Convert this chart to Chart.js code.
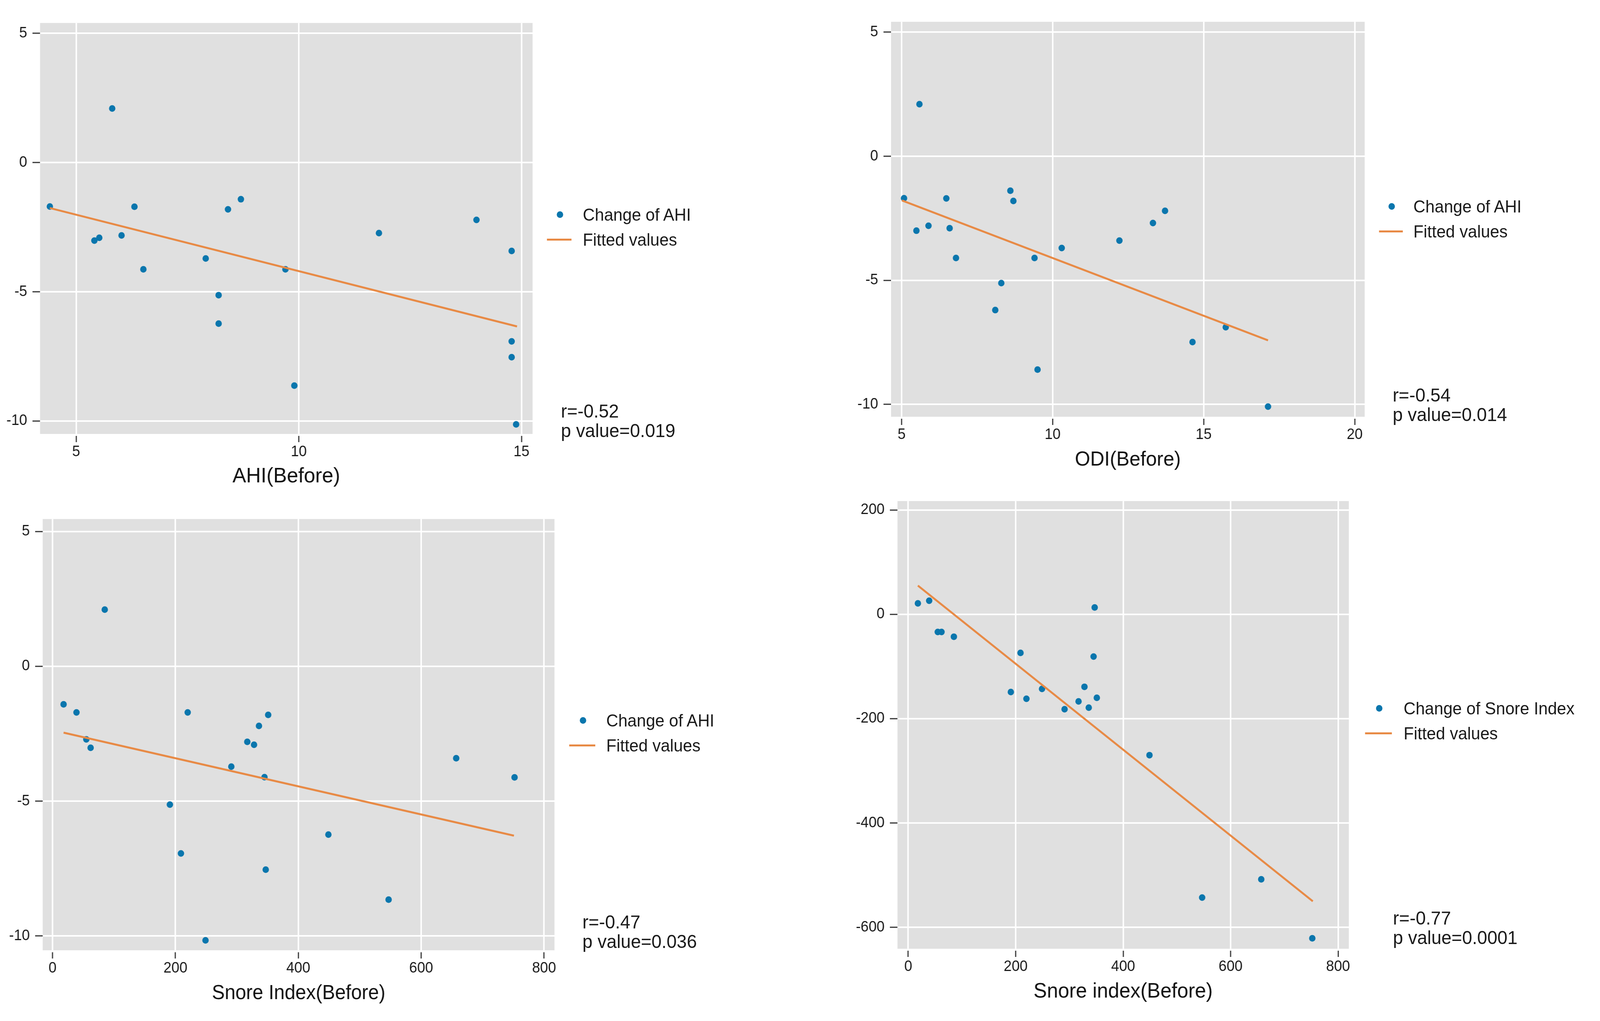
<!DOCTYPE html>
<html>
<head>
<meta charset="utf-8">
<script src="https://cdn.jsdelivr.net/npm/chart.js@4.4.1/dist/chart.umd.min.js"></script>
<style>
  html, body { margin: 0; padding: 0; background: #fff; overflow: hidden; }
  #page { position: relative; width: 4236px; height: 2614px; overflow: hidden; transform-origin: 0 0;
          font-family: "Liberation Sans", Arial, sans-serif; color: #1a1a1a; }
  canvas { position: absolute; }
  .legend { position: absolute; font-size: 44px; line-height: 64px; white-space: nowrap; }
  .legend .dot { position: absolute; width: 17px; height: 17px; border-radius: 50%; background: #0a76ad; }
  .legend .ln { position: absolute; height: 5px; background: #e88a45; }
  .stats { position: absolute; font-size: 48px; line-height: 50px; white-space: nowrap; }
</style>
</head>
<body>
<div id="page"></div>
<script>
// AHI(Before) vs change of AHI
const ahiBefore = [4.41, 5.81, 5.41, 5.52, 6.02, 6.31, 6.51, 7.91, 8.20, 8.20, 8.41, 8.70, 9.70, 9.90, 11.80, 13.99, 14.78, 14.78, 14.78, 14.88];
const ahiChange1 = [-1.70, 2.09, -3.02, -2.91, -2.82, -1.71, -4.13, -3.71, -5.13, -6.23, -1.81, -1.42, -4.13, -8.63, -2.73, -2.22, -3.42, -6.92, -7.53, -10.13];
const ahiFitX = [4.41, 14.90];
const ahiFitY = [-1.76, -6.34];

// ODI(Before) vs change of AHI
const odiBefore = [5.08, 5.59, 5.49, 5.89, 6.48, 6.59, 6.80, 8.10, 8.30, 8.60, 8.70, 9.40, 9.50, 10.30, 12.21, 13.32, 13.72, 14.63, 15.73, 17.13];
const ahiChange2 = [-1.69, 2.10, -3.00, -2.80, -1.70, -2.90, -4.10, -6.20, -5.11, -1.39, -1.80, -4.10, -8.60, -3.70, -3.40, -2.69, -2.20, -7.49, -6.89, -10.09];
const odiFitX = [5.01, 17.13];
const odiFitY = [-1.78, -7.42];

// Snore index(Before) vs change of AHI / change of snore index
const snoreBefore = [18, 39, 55, 62, 85, 191, 209, 220, 249, 291, 317, 328, 336, 345, 347, 351, 449, 547, 657, 752];
const ahiChange3 = [-1.41, -1.71, -2.71, -3.02, 2.10, -5.13, -6.94, -1.71, -10.16, -3.72, -2.80, -2.91, -2.21, -4.11, -7.54, -1.80, -6.24, -8.65, -3.41, -4.12];
const snoreFitX1 = [18, 751];
const snoreFitY1 = [-2.46, -6.28];
const snoreChange = [21, 26, -34, -34, -43, -149, -74, -162, -143, -182, -167, -139, -179, -81, 13, -160, -270, -543, -508, -621];
const snoreFitX2 = [18, 753];
const snoreFitY2 = [55, -550];

// tick labels
const ticksAhiX = [5, 10, 15];
const ticksOdiX = [5, 10, 15, 20];
const ticksSnoreX = [0, 200, 400, 600, 800];
const ticksChangeAhi = [-10, -5, 0, 5];
const ticksChangeSnore = [-600, -400, -200, 0, 200];

const BLUE = "#0a76ad";
const ORANGE = "#e88a45";
const PAD = 20;        // space above / right of the plot region
const X_AXIS_H = 142;  // ticks + labels + title below the plot region

Chart.defaults.font.family = '"Liberation Sans", Arial, sans-serif';
Chart.defaults.color = "#1a1a1a";

// gray plot region like Stata's s2 scheme
const plotBg = {
  id: "plotBg",
  beforeDraw(chart) {
    const a = chart.chartArea;
    chart.ctx.save();
    chart.ctx.fillStyle = "#e0e0e0";
    chart.ctx.fillRect(a.left, a.top, a.right - a.left, a.bottom - a.top);
    chart.ctx.restore();
  }
};

function toPoints(xs, ys) {
  return xs.map((x, i) => ({ x: x, y: ys[i] }));
}

// gap = empty space between plot region and tick mark, mark = tick length
function axis(range, ticks, size, gap, mark, labelPad) {
  return {
    type: "linear",
    min: range[0],
    max: range[1],
    afterBuildTicks: s => { s.ticks = ticks.map(v => ({ value: v })); },
    ticks: { font: { size: 38 }, padding: labelPad, color: "#1a1a1a" },
    grid: {
      color: "#ffffff",
      lineWidth: 4,
      tickColor: "#333333",
      tickWidth: 3,
      tickLength: gap + mark,
      tickBorderDash: [mark, gap],
      tickBorderDashOffset: mark
    },
    border: { display: false },
    afterFit: size
  };
}

function drawPanel(p) {
  const page = document.getElementById("page");
  const c = document.createElement("canvas");
  const left = p.area.left - p.yWidth;
  const top = p.area.top - PAD;
  const w = p.area.right - left + PAD;
  const h = PAD + (p.area.bottom - p.area.top) + X_AXIS_H;
  c.width = w;
  c.height = h;
  c.style.left = left + "px";
  c.style.top = top + "px";
  c.style.width = w + "px";
  c.style.height = h + "px";
  page.appendChild(c);

  const xAxis = axis(p.xRange, p.xTicks, s => { s.height = X_AXIS_H; }, 5, 16, 3);
  xAxis.position = "bottom";
  xAxis.title = { display: true, text: p.xTitle, font: { size: p.titleSize }, padding: 0, color: "#111" };
  const yAxis = axis(p.yRange, p.yTicks, s => { s.width = p.yWidth; }, 6, 20, 8);
  yAxis.position = "left";

  new Chart(c, {
    type: "scatter",
    data: {
      datasets: [
        {
          label: p.legend,
          data: toPoints(p.xs, p.ys),
          pointRadius: 8.5,
          pointBorderWidth: 0,
          pointBackgroundColor: BLUE,
          order: 2
        },
        {
          label: "Fitted values",
          data: toPoints(p.fitX, p.fitY),
          showLine: true,
          borderColor: ORANGE,
          borderWidth: 5,
          pointRadius: 0,
          order: 1
        }
      ]
    },
    options: {
      responsive: false,
      animation: false,
      devicePixelRatio: 1,
      events: [],
      layout: { padding: { top: PAD, right: PAD, left: 0, bottom: 0 } },
      plugins: { legend: { display: false }, tooltip: { enabled: false } },
      scales: { x: xAxis, y: yAxis }
    },
    plugins: [plotBg]
  });

  // legend (Stata style, right of the plot)
  const lg = document.createElement("div");
  lg.className = "legend";
  lg.style.left = p.leg.text + "px";
  lg.style.top = (p.leg.base - 32 - 0.3465 * 44) + "px";
  lg.innerHTML = "<div>" + p.legend + "</div><div>Fitted values</div>";
  const dot = document.createElement("span");
  dot.className = "dot";
  dot.style.left = (p.leg.dot - p.leg.text - 8.5) + "px";
  dot.style.top = "23.5px";
  lg.appendChild(dot);
  const ln = document.createElement("span");
  ln.className = "ln";
  ln.style.left = (p.leg.line[0] - p.leg.text) + "px";
  ln.style.width = (p.leg.line[1] - p.leg.line[0]) + "px";
  ln.style.top = "93.5px";
  lg.appendChild(ln);
  page.appendChild(lg);

  // r and p value
  const st = document.createElement("div");
  st.className = "stats";
  st.style.left = p.stats.left + "px";
  st.style.top = (p.stats.base - 25 - 0.3465 * 48) + "px";
  st.innerHTML = "<div>" + p.r + "</div><div>" + p.pv + "</div>";
  page.appendChild(st);
}

const panels = [
  {
    xs: ahiBefore, ys: ahiChange1, fitX: ahiFitX, fitY: ahiFitY,
    xTicks: ticksAhiX, yTicks: ticksChangeAhi, xRange: [4.19, 15.25], yRange: [-10.5, 5.4],
    xTitle: "AHI(Before)", titleSize: 54, legend: "Change of AHI", r: "r=-0.52", pv: "p value=0.019",
    area: { left: 106, top: 48, right: 1410, bottom: 1111 }, yWidth: 106,
    leg: { text: 1543, base: 565, dot: 1482, line: [1448, 1513] },
    stats: { left: 1485, base: 1070 }
  },
  {
    xs: odiBefore, ys: ahiChange2, fitX: odiFitX, fitY: odiFitY,
    xTicks: ticksOdiX, yTicks: ticksChangeAhi, xRange: [4.65, 20.33], yRange: [-10.5, 5.42],
    xTitle: "ODI(Before)", titleSize: 52, legend: "Change of AHI", r: "r=-0.54", pv: "p value=0.014",
    area: { left: 2359, top: 45, right: 3613, bottom: 1067 }, yWidth: 140,
    leg: { text: 3742, base: 544, dot: 3684, line: [3651, 3714] },
    stats: { left: 3687, base: 1029 }
  },
  {
    xs: snoreBefore, ys: ahiChange3, fitX: snoreFitX1, fitY: snoreFitY1,
    xTicks: ticksSnoreX, yTicks: ticksChangeAhi, xRange: [-16, 817], yRange: [-10.53, 5.46],
    xTitle: "Snore Index(Before)", titleSize: 51, legend: "Change of AHI", r: "r=-0.47", pv: "p value=0.036",
    area: { left: 113, top: 1318, right: 1468, bottom: 2433 }, yWidth: 113,
    leg: { text: 1605, base: 1860, dot: 1543, line: [1507, 1576] },
    stats: { left: 1542, base: 2378 }
  },
  {
    xs: snoreBefore, ys: snoreChange, fitX: snoreFitX2, fitY: snoreFitY2,
    xTicks: ticksSnoreX, yTicks: ticksChangeSnore, xRange: [-20, 820], yRange: [-641, 217],
    xTitle: "Snore index(Before)", titleSize: 53, legend: "Change of Snore Index", r: "r=-0.77", pv: "p value=0.0001",
    area: { left: 2376, top: 1272, right: 3571, bottom: 2429 }, yWidth: 140,
    leg: { text: 3716, base: 1829, dot: 3651, line: [3614, 3685] },
    stats: { left: 3688, base: 2368 }
  }
];

panels.forEach(drawPanel);

// if the viewport is smaller than the figure, shrink the whole page to fit
function fitPage() {
  const page = document.getElementById("page");
  const sx = Math.min(window.innerWidth / 4236, 1);
  const sy = Math.min(window.innerHeight / 2614, 1);
  page.style.transform = (sx < 1 || sy < 1) ? `scale(${sx}, ${sy})` : "";
}
fitPage();
</script>
</body>
</html>
